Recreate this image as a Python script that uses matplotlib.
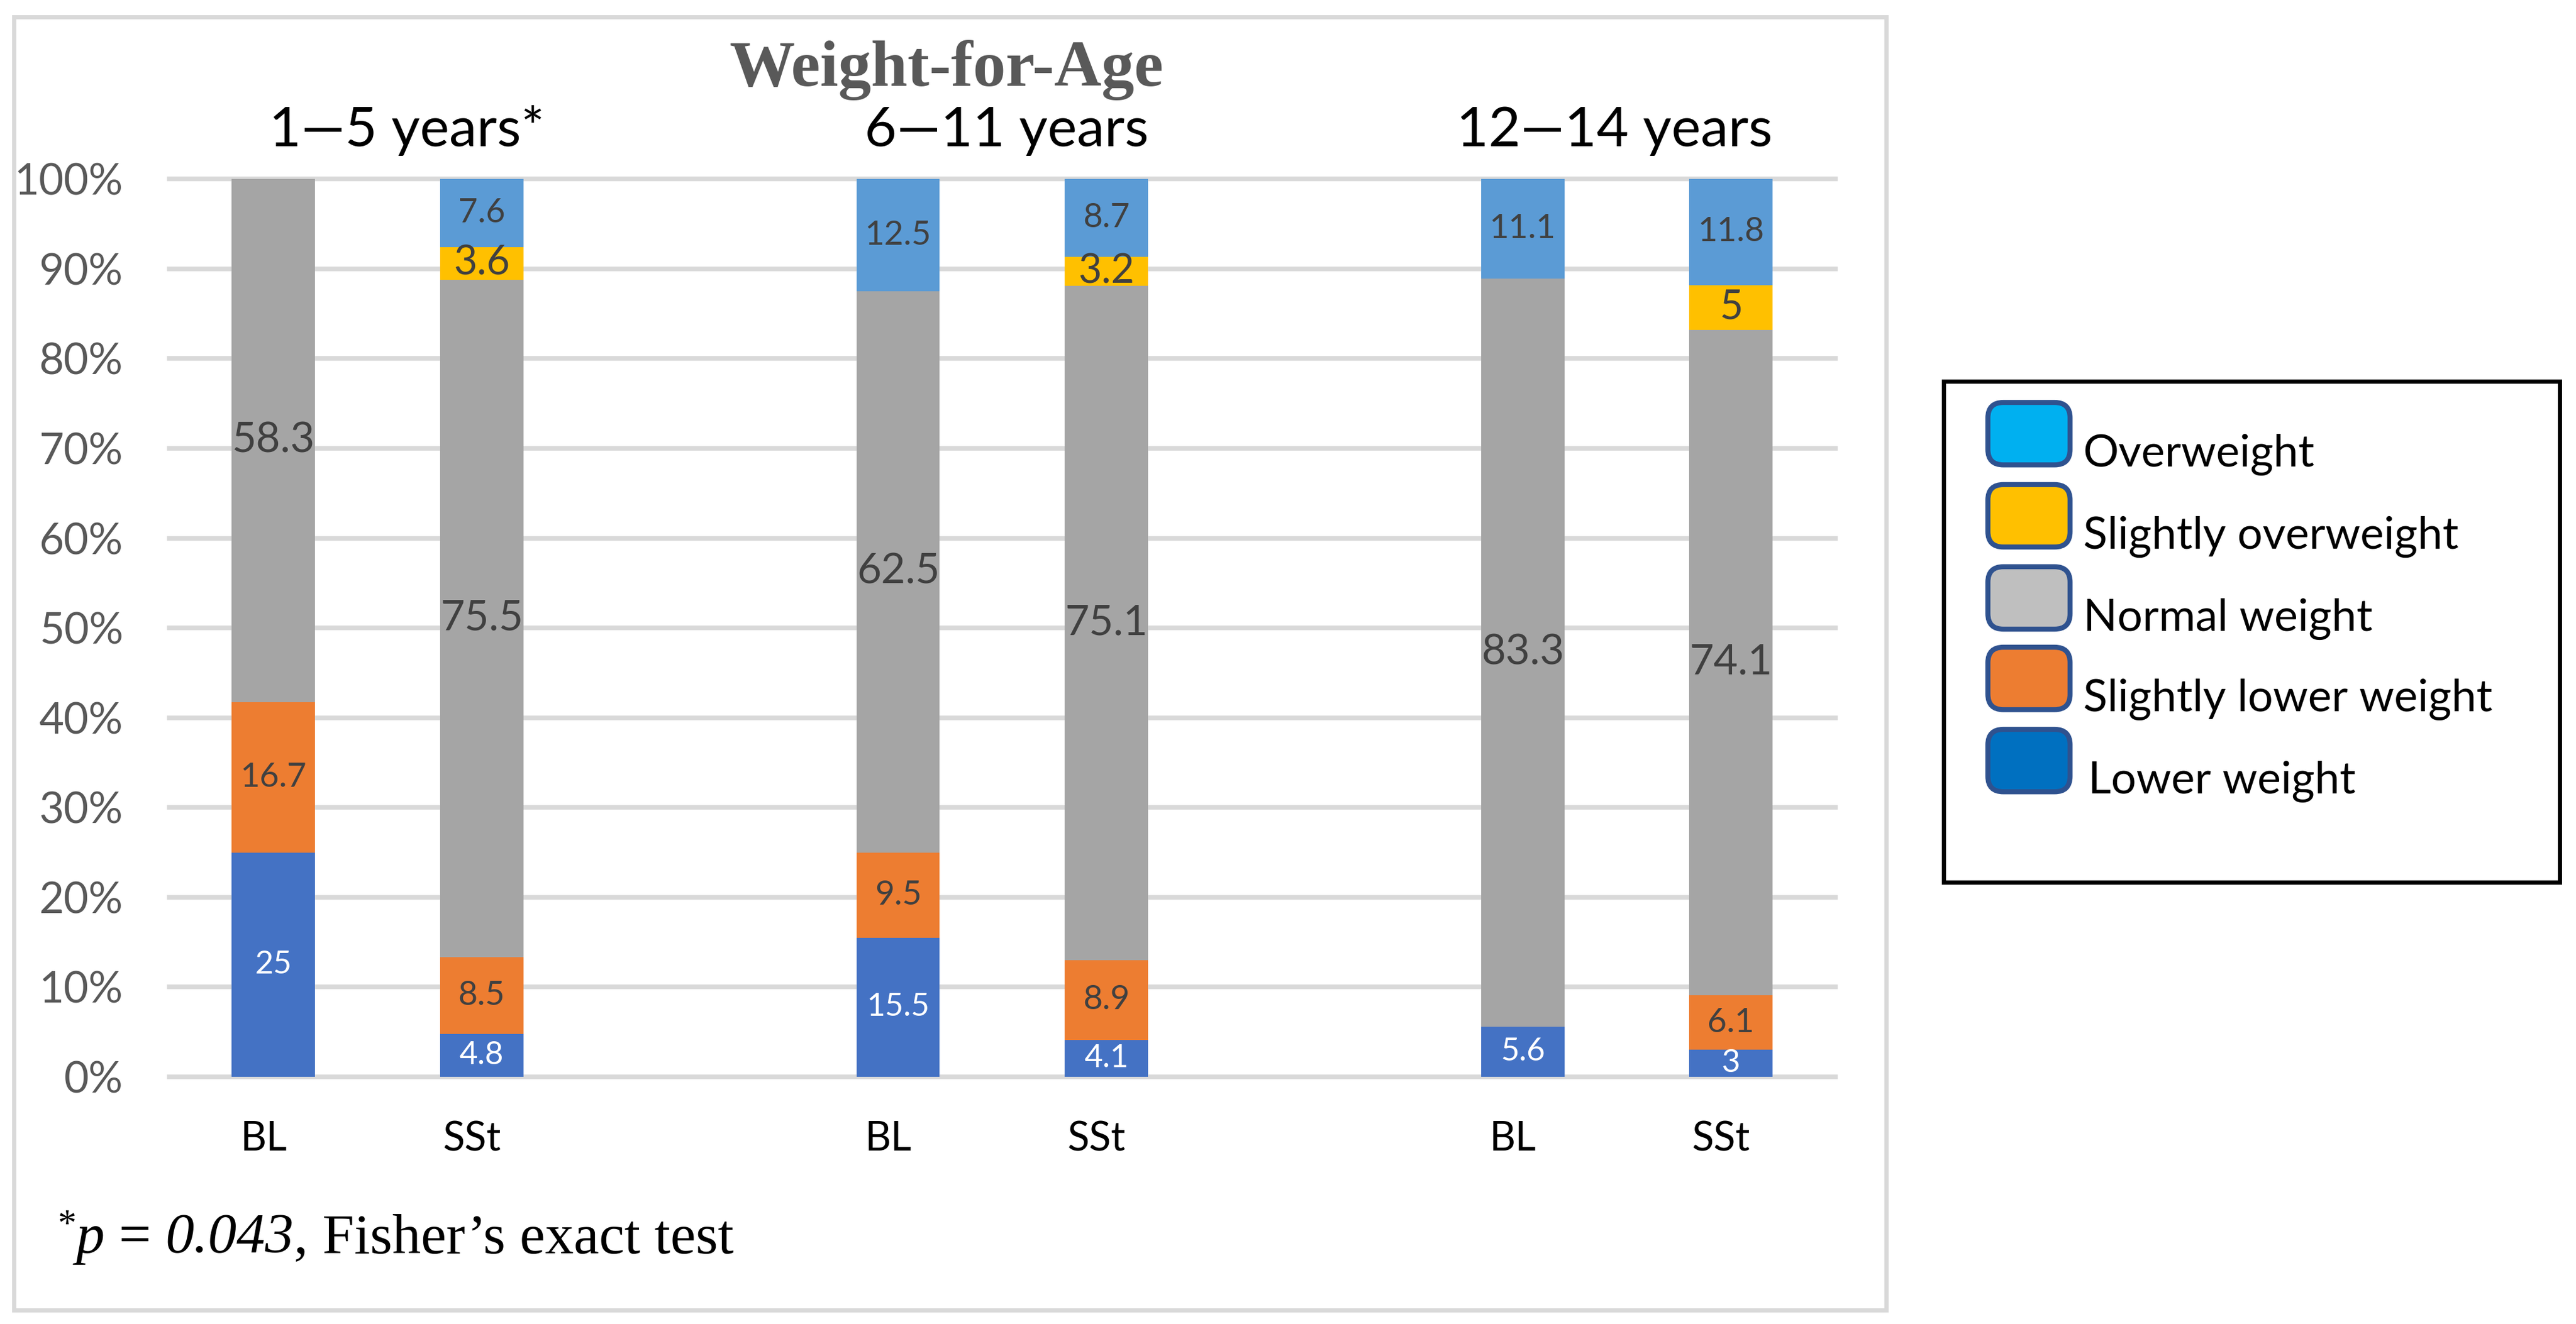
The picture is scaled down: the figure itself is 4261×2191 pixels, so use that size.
import matplotlib
matplotlib.use("Agg")
import matplotlib.pyplot as plt
from matplotlib.patches import FancyBboxPatch, Rectangle
from matplotlib.transforms import ScaledTranslation, blended_transform_factory
import numpy as np

# ---------------- data ----------------
groups = ["1\u20145 years*", "6\u201411 years", "12\u201414 years"]
bar_labels = ["BL", "SSt"]
series_names = ["Lower weight", "Slightly lower weight", "Normal weight",
                "Slightly overweight", "Overweight"]

lower_weight = [25, 4.8, 15.5, 4.1, 5.6, 3]
slightly_lower_weight = [16.7, 8.5, 9.5, 8.9, 0, 6.1]
normal_weight = [58.3, 75.5, 62.5, 75.1, 83.3, 74.1]
slightly_overweight = [0, 3.6, 0, 3.2, 0, 5]
overweight = [0, 7.6, 12.5, 8.7, 11.1, 11.8]

y_ticks = [0, 10, 20, 30, 40, 50, 60, 70, 80, 90, 100]
y_tick_labels = ["0%", "10%", "20%", "30%", "40%", "50%", "60%", "70%",
                 "80%", "90%", "100%"]

title = "Weight-for-Age"
# footnote pieces: (text, style, superscript?)
footnote_parts = [("*", "normal", True), ("p", "italic", False), (" = ", "normal", False),
                  ("0.043", "italic", False), (", Fisher\u2019s exact test", "normal", False)]
legend_labels = ["Overweight", "Slightly overweight", "Normal weight",
                 "Slightly lower weight", "Lower weight"]

# ---------------- styles ----------------
bar_colors = ["#4472C4", "#ED7D31", "#A5A5A5", "#FFC000", "#5B9BD5"]
label_colors = ["white", "#404040", "#404040", "#404040", "#404040"]
label_sizes = [38, 40, 50, 48, 40]
legend_colors = ["#00B0F0", "#FFC000", "#BFBFBF", "#ED7D31", "#0070C0"]

plt.rcParams["font.family"] = ["Lato", "DejaVu Sans"]

W, H = 4261, 2191
fig = plt.figure(figsize=(W / 100, H / 100), dpi=100)
fig.patch.set_facecolor("white")

# outer chart frame
fig.add_artist(Rectangle((0.0055, 0.0105), 0.7267, 0.9767, transform=fig.transFigure,
                         facecolor="none", edgecolor="#D9D9D9", lw=5, zorder=0))

ax = fig.add_axes([0.0657, 0.1867, 0.6467, 0.6781])

series = [lower_weight, slightly_lower_weight, normal_weight,
          slightly_overweight, overweight]

n_groups = len(groups)
positions = []
tick_texts = []
for g in range(n_groups):
    for b in range(len(bar_labels)):
        positions.append(g * 3 + b)
        tick_texts.append(bar_labels[b])
positions = np.array(positions, dtype=float)

bottom = np.zeros(len(positions))
for k, vals in enumerate(series):
    vals = np.array(vals, dtype=float)
    ax.bar(positions, vals, width=0.40, bottom=bottom, color=bar_colors[k],
           edgecolor="none", zorder=3)
    for x, v, b0 in zip(positions, vals, bottom):
        if v > 0:
            ax.text(x, b0 + v / 2, "%g" % v, ha="center", va="center",
                    fontsize=label_sizes[k], color=label_colors[k], zorder=4)
    bottom += vals

ax.set_xlim(-0.5, 7.5)
ax.set_ylim(0, 100)
ax.set_yticks(y_ticks)
ax.set_yticklabels(y_tick_labels, fontsize=51, color="#595959")
ax.set_xticks(positions)
ax.set_xticklabels(tick_texts, fontsize=48, color="black")
ax.tick_params(axis="y", length=0, pad=55)
ax.tick_params(axis="x", length=0, pad=52)
for lbl in ax.get_xticklabels():
    lbl.set_transform(lbl.get_transform() + ScaledTranslation(-0.16, 0, fig.dpi_scale_trans))
for s in ax.spines.values():
    s.set_visible(False)
ax.set_axisbelow(True)
ax.grid(axis="y", color="#D9D9D9", lw=5.5, zorder=0)
for gl in ax.get_ygridlines():
    gl.set_clip_on(False)
ax.set_facecolor("none")

# group sub-titles
sub_x = [0.64, 3.52, 6.44]
trans = blended_transform_factory(ax.transData, fig.transFigure)
for gx, gname in zip(sub_x, groups):
    ax.text(gx, 0.8895, gname, transform=trans, ha="center", va="baseline",
            fontsize=66, color="black")

# title
fig.text(0.3673, 0.9352, title, ha="center", va="baseline", fontsize=78,
         fontweight="bold", color="#595959", family="Liberation Serif")

# footnote, built piece by piece
renderer = fig.canvas.get_renderer()
x_px = 0.0223 * W
base_y = 0.054 * H
for txt, style, sup in footnote_parts:
    size = 44 if sup else 68
    y = base_y + (30 if sup else 0)
    t = fig.text(x_px / W, y / H, txt, ha="left", va="baseline", fontsize=size,
                 style=style, color="black", family="Liberation Serif")
    bb = t.get_window_extent(renderer=renderer)
    x_px += bb.width

# legend box
fig.add_artist(Rectangle((0.7545, 0.3337), 0.2391, 0.3785, transform=fig.transFigure,
                         facecolor="white", edgecolor="black", lw=5, zorder=1))
patch_tops = [245, 295, 345, 394, 444]
for i, (lab, col) in enumerate(zip(legend_labels, legend_colors)):
    top = 1 - patch_tops[i] / 806
    ph = 38 / 806
    fig.add_artist(FancyBboxPatch((0.7717, top - ph), 0.0319, ph,
                                  boxstyle="round,pad=0,rounding_size=0.006",
                                  transform=fig.transFigure, facecolor=col,
                                  edgecolor="#2F528F", lw=6, zorder=2,
                                  mutation_aspect=1.945))
    tx = 0.8087 if i < 4 else 0.8106
    fig.text(tx, top - ph - 1 / 806, lab, ha="left", va="baseline", fontsize=53,
             color="black", zorder=3)

fig.savefig("out.png", dpi=100, facecolor="white")
